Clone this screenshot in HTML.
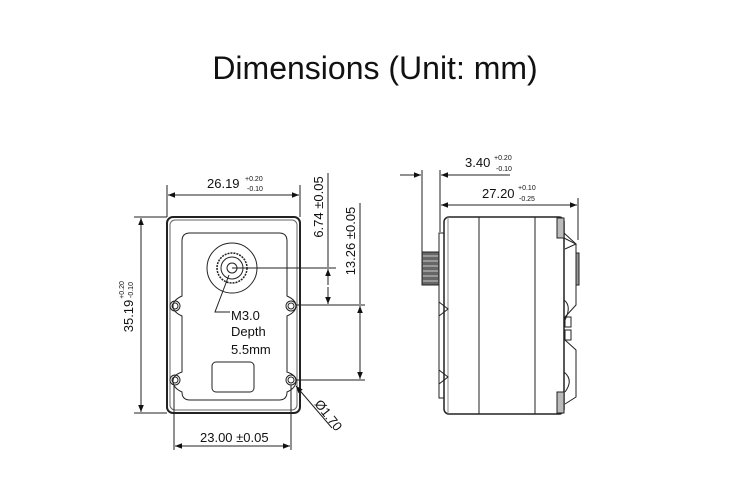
<!DOCTYPE html>
<html><head><meta charset="utf-8"><style>
html,body{margin:0;padding:0;background:#fff}
svg{display:block}
text{font-family:"Liberation Sans",Arial,sans-serif;fill:#111}
</style></head><body>
<svg width="750" height="488" viewBox="0 0 750 488" xmlns="http://www.w3.org/2000/svg">
<defs>
<marker id="a" viewBox="0 0 10 10" refX="10" refY="5" markerWidth="9" markerHeight="7" orient="auto-start-reverse" markerUnits="userSpaceOnUse"><path d="M0,1 L10,5 L0,9 z" fill="#111"/></marker>
</defs>
<text x="375" y="79" font-size="32" text-anchor="middle">Dimensions (Unit: mm)</text>

<g stroke="#222" fill="none" stroke-width="1">
<!-- front view -->
<rect x="167" y="217" width="133" height="196" rx="6" stroke-width="2"/>
<rect x="170" y="220" width="127" height="190" rx="5" stroke="#666"/>
<path d="M190,233 H279 Q287,233 287,241 V296 Q296,300 296,306 Q296,312 287,316 V372 Q296,375 296,381 Q296,388 287,392 Q287,400 279,400 H190 Q182,400 182,392 Q173,388 173,381 Q173,375 182,372 V316 Q173,312 173,306 Q173,300 182,296 V241 Q182,233 190,233 Z"/>
<circle cx="232" cy="268" r="25"/>
<circle cx="232" cy="268" r="15" stroke-dasharray="2 1" stroke-width="1.5"/>
<circle cx="232" cy="268" r="11"/>
<circle cx="232" cy="268" r="5"/>
<circle cx="175" cy="306" r="5"/><circle cx="175" cy="306" r="3"/>
<circle cx="291" cy="306" r="5"/><circle cx="291" cy="306" r="3"/>
<circle cx="175" cy="380" r="5"/><circle cx="175" cy="380" r="3"/>
<circle cx="291" cy="380" r="5"/><circle cx="291" cy="380" r="3"/>
<rect x="212" y="362" width="42" height="30" rx="4"/>

<!-- front dims -->
<line x1="167" y1="185" x2="167" y2="217"/><line x1="300" y1="185" x2="300" y2="217"/>
<line x1="168" y1="195" x2="299" y2="195" marker-start="url(#a)" marker-end="url(#a)"/>
<line x1="134" y1="217" x2="167" y2="217"/><line x1="134" y1="413" x2="167" y2="413"/>
<line x1="141" y1="218" x2="141" y2="412" marker-start="url(#a)" marker-end="url(#a)"/>
<line x1="174" y1="385" x2="174" y2="450"/><line x1="291" y1="385" x2="291" y2="450"/>
<line x1="175" y1="446" x2="290" y2="446" marker-start="url(#a)" marker-end="url(#a)"/>
<line x1="232" y1="268" x2="336" y2="268"/>
<line x1="296" y1="305" x2="365" y2="305"/>
<line x1="296" y1="380" x2="365" y2="380"/>
<line x1="328" y1="173" x2="328" y2="267" />
<line x1="328" y1="285" x2="328" y2="269" marker-end="url(#a)"/>
<line x1="328" y1="287" x2="328" y2="304" marker-end="url(#a)"/>
<line x1="360" y1="203" x2="360" y2="304"/>
<line x1="360" y1="306" x2="360" y2="379" marker-start="url(#a)" marker-end="url(#a)"/>
<line x1="296" y1="386" x2="332" y2="428" marker-start="url(#a)"/>
<polyline points="229,275 215,312 230,312"/>

<!-- side view -->
<rect x="444" y="217" width="120" height="197" rx="5" stroke-width="1.5"/>
<line x1="479" y1="217" x2="479" y2="414"/>
<line x1="535" y1="217" x2="535" y2="414"/>
<line x1="448" y1="217" x2="448" y2="414" stroke="#888"/>
<polyline points="444,233 439,233 439,398 444,398"/>
<path d="M439,302 L448,309 L439,316 M439,370 L448,377 L439,384"/>
<rect x="422" y="252" width="17" height="33" fill="#666" stroke="#222"/>
<g stroke="#ccc"><line x1="423" y1="256" x2="438" y2="256"/><line x1="423" y1="261" x2="438" y2="261"/><line x1="423" y1="266" x2="438" y2="266"/><line x1="423" y1="271" x2="438" y2="271"/><line x1="423" y1="276" x2="438" y2="276"/><line x1="423" y1="281" x2="438" y2="281"/></g>
<rect x="557" y="218" width="7" height="20" fill="#bbb" stroke="#222"/>
<rect x="557" y="392" width="7" height="21" fill="#bbb" stroke="#222"/>
<polyline points="564,233 576,244 565,249"/>
<polyline points="564,238 576,244 576,305 565,317"/>
<rect x="576" y="253" width="3" height="32" fill="#999"/>
<path d="M564,300 Q572,306 565,320"/>
<rect x="565" y="317" width="6" height="10"/>
<rect x="565" y="330" width="6" height="10"/>
<polyline points="565,340 576,350 576,397 565,404"/>
<path d="M564,372 Q574,380 565,392"/>

<!-- side dims -->
<line x1="422" y1="170" x2="422" y2="252"/><line x1="440" y1="170" x2="440" y2="232"/>
<line x1="400" y1="175" x2="421" y2="175" marker-end="url(#a)"/>
<line x1="510" y1="175" x2="441" y2="175" marker-end="url(#a)"/>
<line x1="578" y1="198" x2="578" y2="240"/>
<line x1="441" y1="205" x2="577" y2="205" marker-start="url(#a)" marker-end="url(#a)"/>
</g>

<!-- labels -->
<text x="207" y="188" font-size="13">26.19</text>
<text x="245" y="181" font-size="7">+0.20</text><text x="247" y="191" font-size="7">-0.10</text>
<text transform="translate(133,316) rotate(-90)" font-size="13" text-anchor="middle">35.19</text>
<text transform="translate(124,290) rotate(-90)" font-size="7" text-anchor="middle">+0.20</text>
<text transform="translate(133,290) rotate(-90)" font-size="7" text-anchor="middle">-0.10</text>
<text transform="translate(323,207) rotate(-90)" font-size="13" text-anchor="middle">6.74 ±0.05</text>
<text transform="translate(355,241) rotate(-90)" font-size="13" text-anchor="middle">13.26 ±0.05</text>
<text x="200" y="442" font-size="13">23.00 ±0.05</text>
<text transform="translate(314,404) rotate(52)" font-size="13">Ø1.70</text>
<text x="231" y="320" font-size="13">M3.0</text>
<text x="231" y="336" font-size="13">Depth</text>
<text x="231" y="354" font-size="13">5.5mm</text>
<text x="465" y="167" font-size="13">3.40</text>
<text x="494" y="160" font-size="7">+0.20</text><text x="496" y="171" font-size="7">-0.10</text>
<text x="482" y="198" font-size="13">27.20</text>
<text x="518" y="190" font-size="7">+0.10</text><text x="519" y="201" font-size="7">-0.25</text>
</svg>
</body></html>
